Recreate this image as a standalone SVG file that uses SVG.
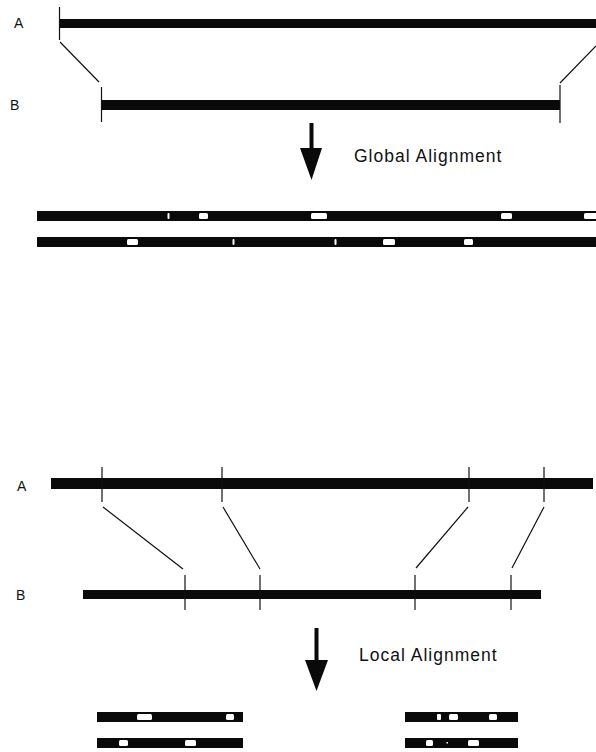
<svg xmlns="http://www.w3.org/2000/svg" width="596" height="752" viewBox="0 0 596 752">
  <style>
    .bar { fill: #0a0a0a; }
    .gap { fill: #ffffff; }
    .tick { stroke: #111; stroke-width: 1.2; fill: none; }
    .link { stroke: #111; stroke-width: 1.2; fill: none; }
    .lbl { font-family: "Liberation Sans", Arial, sans-serif; font-size: 14px; fill: #111; }
    .cap { font-family: "Liberation Sans", Arial, sans-serif; font-size: 17.5px; letter-spacing: 1px; fill: #111; }
    .arrow { fill: #0a0a0a; }
  </style>

  <!-- Global alignment: sequences A and B -->
  <g id="global-seq-a">
    <text class="lbl" x="14" y="28">A</text>
    <rect class="bar" x="59" y="19" width="537" height="9"/>
    <line class="tick" x1="59.5" y1="7" x2="59.5" y2="40"/>
  </g>
  <g id="global-seq-b">
    <text class="lbl" x="10" y="110">B</text>
    <rect class="bar" x="101" y="100" width="459" height="10"/>
    <line class="tick" x1="101.5" y1="87" x2="101.5" y2="122"/>
    <line class="tick" x1="560" y1="85" x2="560" y2="123"/>
  </g>

  <g id="connectors">
    <!-- global -->
    <line class="link" x1="60" y1="42" x2="99" y2="82"/>
    <line class="link" x1="596" y1="46" x2="560" y2="83"/>
    <!-- local -->
    <line class="link" x1="103" y1="507" x2="183" y2="569"/>
    <line class="link" x1="223" y1="507" x2="260" y2="569"/>
    <line class="link" x1="468" y1="507" x2="416" y2="568"/>
    <line class="link" x1="544" y1="507" x2="512" y2="568"/>
  </g>

  <g id="global-step">
    <rect class="arrow" x="309.5" y="123" width="4" height="26"/>
    <polygon class="arrow" points="300,148 322,148 311.5,180"/>
    <text class="cap" x="354" y="162">Global Alignment</text>
  </g>

  <!-- Global alignment result -->
  <g id="global-result-a">
    <rect class="bar" x="37" y="211" width="559" height="10"/>
    <rect class="gap" x="167.5" y="213" width="2" height="6" rx="1"/>
    <rect class="gap" x="199" y="213" width="9" height="6" rx="1.5"/>
    <rect class="gap" x="311" y="213" width="16" height="6" rx="1.5"/>
    <rect class="gap" x="501" y="213" width="11" height="6" rx="1.5"/>
    <rect class="gap" x="584" y="213" width="14" height="6" rx="1.5"/>
  </g>
  <g id="global-result-b">
    <rect class="bar" x="37" y="237" width="559" height="10"/>
    <rect class="gap" x="127" y="239" width="11" height="6" rx="1.5"/>
    <rect class="gap" x="232.5" y="239" width="2" height="6" rx="1"/>
    <rect class="gap" x="334.5" y="239" width="2" height="6" rx="1"/>
    <rect class="gap" x="383" y="239" width="12" height="6" rx="1.5"/>
    <rect class="gap" x="464" y="239" width="9" height="6" rx="1.5"/>
  </g>

  <!-- Local alignment: sequences A and B -->
  <g id="local-seq-a">
    <text class="lbl" x="17" y="491">A</text>
    <rect class="bar" x="51" y="478" width="542" height="11"/>
    <line class="tick" x1="102" y1="467" x2="102" y2="502"/>
    <line class="tick" x1="222" y1="467" x2="222" y2="502"/>
    <line class="tick" x1="469" y1="467" x2="469" y2="502"/>
    <line class="tick" x1="544" y1="467" x2="544" y2="502"/>
  </g>
  <g id="local-seq-b">
    <text class="lbl" x="16" y="600">B</text>
    <rect class="bar" x="83" y="590" width="458" height="9"/>
    <line class="tick" x1="185" y1="575" x2="185" y2="610"/>
    <line class="tick" x1="260" y1="575" x2="260" y2="610"/>
    <line class="tick" x1="415" y1="575" x2="415" y2="610"/>
    <line class="tick" x1="511" y1="575" x2="511" y2="610"/>
  </g>

  <g id="local-step">
    <rect class="arrow" x="314.5" y="628" width="4" height="33"/>
    <polygon class="arrow" points="305,660 328,660 316.5,691"/>
    <text class="cap" x="359" y="661">Local Alignment</text>
  </g>

  <!-- Local alignment result: two aligned segments -->
  <g id="local-result-left">
    <rect class="bar" x="97" y="712" width="146" height="10"/>
    <rect class="gap" x="137" y="714" width="15" height="6" rx="1.5"/>
    <rect class="gap" x="226" y="714" width="8" height="6" rx="1.5"/>
    <rect class="bar" x="97" y="738" width="146" height="10"/>
    <rect class="gap" x="119" y="740" width="9" height="6" rx="1.5"/>
    <rect class="gap" x="185" y="740" width="11" height="6" rx="1.5"/>
  </g>
  <g id="local-result-right">
    <rect class="bar" x="405" y="712" width="113" height="10"/>
    <rect class="gap" x="437" y="714" width="4" height="6" rx="1"/>
    <rect class="gap" x="449" y="714" width="9" height="6" rx="1.5"/>
    <rect class="gap" x="489" y="714" width="8" height="6" rx="1.5"/>
    <rect class="bar" x="405" y="738" width="113" height="10"/>
    <rect class="gap" x="426" y="740" width="7" height="6" rx="1.5"/>
    <rect class="gap" x="446.5" y="742" width="1.5" height="1.5"/>
    <rect class="gap" x="468" y="740" width="11" height="6" rx="1.5"/>
  </g>
</svg>
